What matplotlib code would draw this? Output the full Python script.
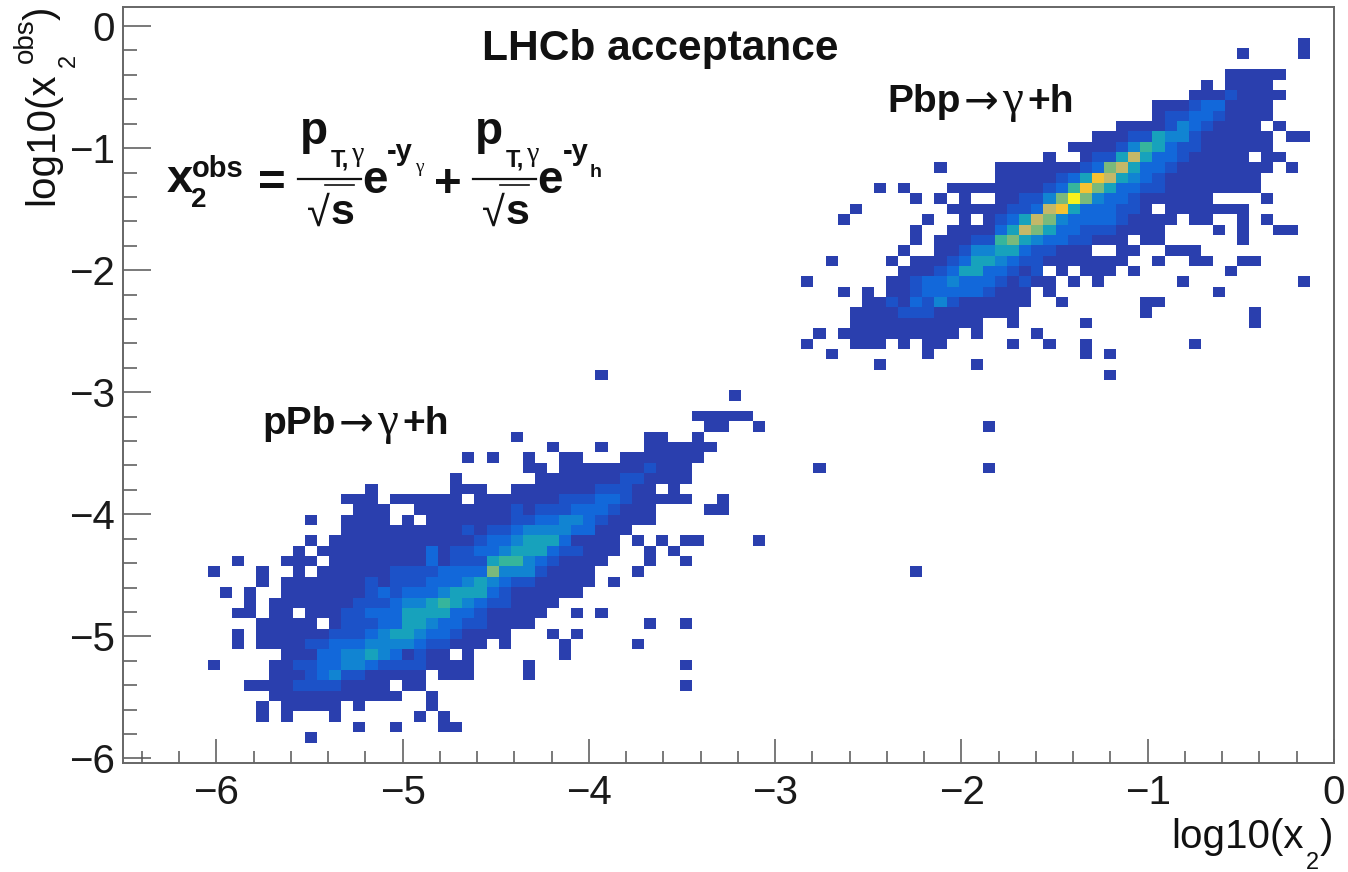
import numpy as np
import matplotlib
matplotlib.use('Agg')
import matplotlib.pyplot as plt
from matplotlib.colors import ListedColormap, BoundaryNorm
from matplotlib.ticker import MultipleLocator

plt.rcParams['font.family'] = ['Liberation Sans', 'DejaVu Sans']
plt.rcParams['axes.unicode_minus'] = True

# histogram binning
x_range = (-6.5, 0.0)
y_range = (-6.04, 0.156)
n_xbins = 100
n_ybins = 73

# bin contents as colour levels, row counted from the top: {row: [(first col, levels), ...]}
hist_rows = {
    3: [(97, "1")],
    4: [(92, "1"), (97, "1")],
    6: [(91, "11111")],
    7: [(89, "1"), (91, "1111")],
    8: [(88, "11121111")],
    9: [(85, "1112331111")],
    10: [(85, "1223321111")],
    11: [(82, "111124321111"), (95, "1")],
    12: [(80, "111225442111111"), (96, "11")],
    13: [(78, "11112465322111111")],
    14: [(76, "1"), (79, "12258533211111"), (94, "11")],
    15: [(67, "1"), (72, "11111112378533211111111"), (96, "1")],
    16: [(72, "1111123598543211111111")],
    17: [(62, "1"), (64, "1"), (68, "11111111236975332211111111")],
    18: [(65, "1"), (67, "1"), (69, "1"), (72, "112247a74332111111"), (94, "1")],
    19: [(60, "1"), (68, "11111223895333221"), (86, "1111111")],
    20: [(59, "1"), (66, "1"), (69, "1"), (71, "1235874333321111"), (88, "11"), (92, "1"), (94, "1")],
    21: [(65, "1"), (68, "111135875332221111"), (90, "1"), (92, "1"), (95, "11")],
    22: [(65, "1"), (67, "1112267543322111"), (84, "11"), (92, "1")],
    23: [(64, "1"), (67, "1124455322111"), (82, "11"), (86, "111")],
    24: [(58, "1"), (63, "1"), (65, "111235543221111111"), (85, "1"), (88, "11"), (92, "11")],
    25: [(64, "111235533212"), (77, "1"), (79, "111"), (83, "1"), (91, "1")],
    26: [(56, "1"), (63, "11233433321211"), (78, "1"), (80, "1"), (87, "1"), (97, "1")],
    27: [(59, "1"), (61, "1"), (63, "112333332111"), (76, "1"), (90, "1")],
    28: [(61, "11213242111111"), (77, "1"), (84, "11")],
    29: [(60, "11112221111111"), (84, "1"), (93, "1")],
    30: [(60, "11111111111"), (73, "1"), (79, "1"), (93, "1")],
    31: [(57, "1"), (59, "1111111111"), (70, "1"), (75, "1")],
    32: [(56, "1"), (60, "111"), (64, "1"), (66, "11"), (73, "1"), (76, "1"), (79, "1"), (88, "1")],
    33: [(58, "1"), (66, "1"), (79, "1"), (81, "1")],
    34: [(62, "1"), (70, "1")],
    35: [(39, "1"), (81, "1")],
    37: [(50, "1")],
    39: [(47, "11111")],
    40: [(48, "11"), (52, "1"), (71, "1")],
    41: [(32, "1"), (43, "11"), (47, "1")],
    42: [(35, "1"), (39, "1"), (43, "111111")],
    43: [(28, "1"), (30, "1"), (33, "1"), (36, "11"), (41, "1111111")],
    44: [(33, "11"), (36, "11111112111"), (57, "1"), (71, "1")],
    45: [(27, "1"), (34, "1111111221111")],
    46: [(20, "1"), (27, "111"), (32, "111111122211"), (45, "1")],
    47: [(18, "111"), (22, "111111"), (29, "111111122233211111"), (49, "1")],
    48: [(19, "111"), (24, "11111111212223332111"), (48, "11")],
    49: [(15, "1"), (18, "1111"), (23, "1"), (25, "1111111223344321111")],
    50: [(18, "111111111121223444433111")],
    51: [(15, "1"), (17, "111111111111233455531111"), (42, "1"), (44, "1"), (46, "11"), (52, "1")],
    52: [(14, "1"), (16, "1111111113122334555322111"), (43, "1"), (45, "1")],
    53: [(9, "1"), (13, "111"), (17, "11111111312225664321111"), (43, "1"), (46, "1")],
    54: [(7, "1"), (11, "1"), (14, "1"), (16, "11111122223333744421111"), (42, "1"), (65, "1")],
    55: [(11, "1"), (13, "11111112122233345432211111"), (40, "1")],
    56: [(8, "1"), (10, "1"), (13, "1111111232333455532111111")],
    57: [(10, "1"), (12, "111111122234456543221111")],
    58: [(9, "11"), (12, "11"), (15, "11122333555533211111"), (37, "1"), (39, "1")],
    59: [(11, "11111"), (17, "12223355433221111"), (43, "1"), (46, "1")],
    60: [(9, "1"), (11, "111111222345543321111"), (35, "1"), (37, "1")],
    61: [(9, "1"), (11, "1111223334444322111"), (31, "1"), (36, "1"), (42, "1")],
    62: [(13, "11133445431211"), (28, "1"), (36, "1")],
    63: [(7, "1"), (12, "11223344322221111"), (33, "1"), (46, "1")],
    64: [(12, "1112342211111"), (26, "111"), (33, "1")],
    65: [(10, "111122221111"), (23, "11"), (46, "1")],
    66: [(12, "11111111111"), (25, "1")],
    67: [(11, "1"), (13, "11111"), (19, "1"), (25, "1")],
    68: [(11, "1"), (13, "1"), (17, "1"), (24, "1"), (26, "1")],
    69: [(19, "1"), (22, "1"), (26, "11")],
    70: [(15, "1")],
}

# colours of the levels, dark blue up to yellow
level_colors = ['#2a3fae', '#1c52c8', '#1268da', '#1184d2', '#17a2bc',
                '#36b59c', '#7ab97c', '#c4b868', '#f5c232', '#f8f21c']

# axis ticks
x_ticks = [-6, -5, -4, -3, -2, -1, 0]
y_ticks = [-6, -5, -4, -3, -2, -1, 0]

W, H = 1348, 872
fig = plt.figure(figsize=(W / 100, H / 100), dpi=100)
ax = fig.add_axes([123.3 / W, 1 - 763.3 / H, (1334 - 123.3) / W, (763.3 - 7) / H])

counts = np.full((n_ybins, n_xbins), np.nan)
for row, segments in hist_rows.items():
    for col, levels in segments:
        for i, ch in enumerate(levels):
            counts[row, col + i] = 10 if ch == 'a' else int(ch)

x_edges = np.linspace(x_range[0], x_range[1], n_xbins + 1)
y_edges = np.linspace(y_range[1], y_range[0], n_ybins + 1)
cmap = ListedColormap(level_colors)
norm = BoundaryNorm(np.arange(0.5, 11.5), cmap.N)
ax.pcolormesh(x_edges, y_edges, np.ma.masked_invalid(counts), cmap=cmap, norm=norm,
              edgecolors='none', antialiased=False)

ax.set_xlim(*x_range)
ax.set_ylim(*y_range)
ax.set_xticks(x_ticks)
ax.set_yticks(y_ticks)
ax.xaxis.set_minor_locator(MultipleLocator(0.2))
ax.yaxis.set_minor_locator(MultipleLocator(0.2))
ax.tick_params(axis='x', which='major', length=17, width=1.1, color='#555555', direction='in',
               labelsize=29, pad=8, labelcolor='#1a1a1a')
ax.tick_params(axis='x', which='minor', length=8.5, width=1.1, color='#555555', direction='in')
ax.tick_params(axis='y', which='major', length=20, width=1.1, color='#555555', direction='in',
               labelsize=29, pad=6, labelcolor='#1a1a1a')
ax.tick_params(axis='y', which='minor', length=10, width=1.1, color='#555555', direction='in')
for s in ax.spines.values():
    s.set_color('#666666')
    s.set_linewidth(1.4)


def put(x, y, s, size, **kw):
    kw.setdefault('ha', 'left')
    kw.setdefault('va', 'baseline')
    fig.text(x / W, 1 - y / H, s, fontsize=size, color='#111111', **kw)


def bold(x, y, s, size, **kw):
    put(x, y, s, size, fontweight='bold', **kw)


def thin_gamma(x, y, size):
    put(x, y, 'γ', size, family=['Liberation Serif'])


def line(x0, x1, y, lw):
    fig.add_artist(plt.Line2D([x0 / W, x1 / W], [1 - y / H, 1 - y / H], color='#111111', lw=lw))


# x axis title
put(1304, 848, 'log10(x', 29, ha='right')
put(1306, 869, '2', 17)
put(1320, 848, ')', 29)

# y axis title, rotated
rot = dict(rotation=90, rotation_mode='anchor')
put(53, 205, 'log10(x', 29, **rot)
put(33, 63, 'obs', 20, **rot)
put(75, 67, '2', 17, **rot)
put(53, 20, ')', 29, **rot)

# labels inside the frame
bold(660, 60, 'LHCb acceptance', 30.6, ha='center')
for x0, y0, a, b in ((887, 112.5, 'Pbp', '+h'), (262, 434.5, 'pPb', '+h')):
    bold(x0, y0, a, 28)
    put(x0 + 77, y0 + 1, '→', 30, family=['DejaVu Sans'])
    thin_gamma(x0 + 115, y0, 34)
    bold(x0 + 140, y0, b, 28)

# formula, put together from pieces
bold(167, 192, 'x', 34)
bold(192, 177, 'obs', 21)
bold(191, 207, '2', 20)
bold(258, 196, '=', 34)
bold(434, 197, '+', 34)
for x0 in (298, 473):
    line(x0, x0 + 63, 179.5, 1.6)
    bold(x0 + 2, 144, 'p', 33)
    bold(x0 + 33, 166, 'T,', 17)
    thin_gamma(x0 + 54, 161, 20)
    put(x0 + 9, 226, '√', 30, family=['Liberation Sans'])
    line(x0 + 27, x0 + 56, 185, 1.2)
    bold(x0 + 33, 224, 's', 31)
    bold(x0 + 64, 193, 'e', 33)
bold(387, 160, '-y', 21)
thin_gamma(415, 172, 14)
bold(563, 160, '-y', 21)
bold(590, 177, 'h', 14)

fig.savefig('out.png', dpi=100)
